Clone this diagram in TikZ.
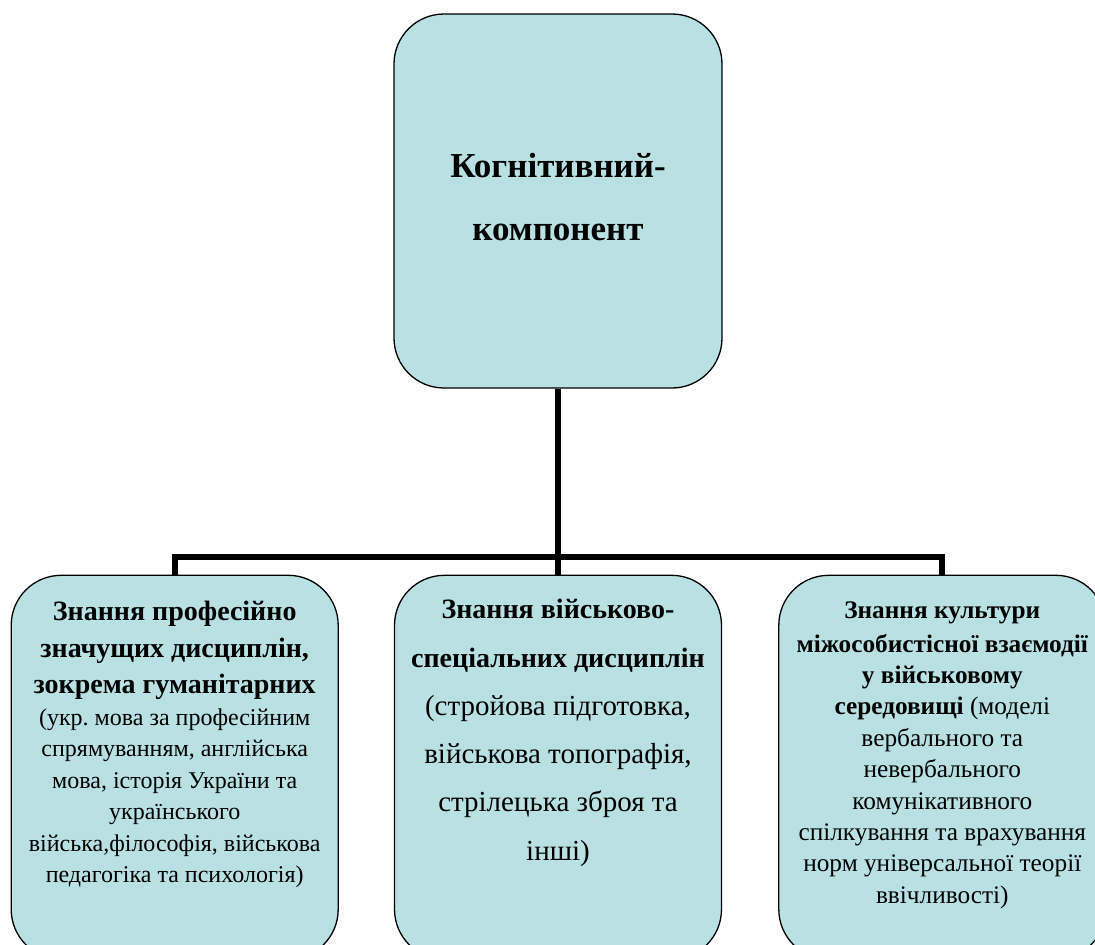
\documentclass[tikz,border=0pt]{standalone}
\usepackage{fontspec}
\setmainfont{Liberation Serif}
\usepackage{tikz}
\usetikzlibrary{positioning}
\definecolor{boxblue}{RGB}{185,224,227}
\tikzstyle{BoxNode}=[rectangle, rounded corners=50pt, draw=black, line width=1.3pt, fill=boxblue, minimum width=327pt, minimum height=384pt, inner sep=0pt]
\tikzstyle{TxtNode}=[align=center, inner sep=0pt, anchor=north]
\tikzstyle{ConnLine}=[line width=6pt]
\newcommand{\bl}[1]{{\bfseries #1}}

\begin{document}
\frenchspacing
\begin{tikzpicture}[x=1pt, y=-1pt, node distance={186pt}]
      \useasboundingbox (0,0) rectangle (1095,945);
      \clip (0,0) rectangle (1095,945);
      \node[BoxNode, minimum width=328pt, minimum height=374pt] (k) at (558,201) {};
      \node[BoxNode] (2) [below=of k] {};
      \node[BoxNode] (1) [left=55pt of 2] {};
      \node[BoxNode] (3) [right=56pt of 2] {};
      \coordinate (h) at (558,557);
      \draw[ConnLine] (k) -- (h);
      \draw[ConnLine] (1) |- (h) -| (3);
      \draw[ConnLine] (h) -- (2);
      \node[TxtNode, anchor=center, yshift=4pt, font=\fontsize{35}{63}\selectfont] (kt) at (k) {\bl{Когнітивний-}\\\bl{компонент}};
      \node[TxtNode, font=\fontsize{24}{31.5}\selectfont] (1t) [below=26.5pt of 1.north] {\bl{\fontsize{28}{31.5}\selectfont Знання професійно}\\[5pt]
        \bl{\fontsize{28}{31.5}\selectfont значущих дисциплін,}\\[5pt]
        \bl{\fontsize{28}{31.5}\selectfont зокрема гуманітарних}\\
        (укр. мова за професійним\\спрямуванням, англійська\\мова, історія України та\\українського\\війська,філософія, військова\\педагогіка та психологія)};
      \node[TxtNode, font=\fontsize{29}{48.3}\selectfont] (2t) [below=24.5pt of 2.north] {\bl{\fontsize{28}{48.3}\selectfont Знання військово-}\\\bl{\fontsize{28}{48.3}\selectfont спеціальних дисциплін}\\
        (стройова підготовка,\\військова топографія,\\стрілецька зброя та\\інші)};
      \node[TxtNode, font=\fontsize{25.3}{31.4}\selectfont] (3t) [below=26.5pt of 3.north] {\bl{Знання культури}\\[2.5pt]\bl{міжособистісної взаємодії}\\\bl{у військовому}\\
        \bl{середовищі} (моделі\\вербального та\\невербального\\комунікативного\\спілкування та врахування\\норм універсальної теорії\\ввічливості)};
\end{tikzpicture}
\end{document}
